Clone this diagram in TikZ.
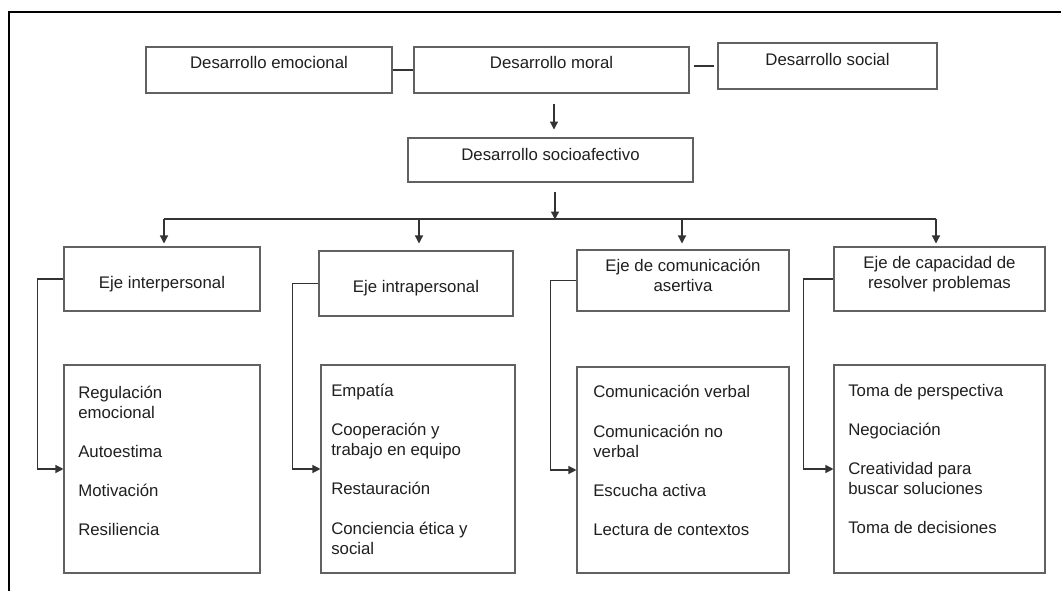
\documentclass[tikz,border=0pt]{standalone}
\usepackage{fontspec}
\setmainfont{Liberation Sans}
\usetikzlibrary{arrows.meta,calc}
\begin{document}
\begin{tikzpicture}[x=0.75pt,y=-0.75pt,
  box/.style={draw=black!62, line width=0.8pt, rectangle, inner sep=0pt},
  sz/.style 2 args={minimum width=#1*0.75pt, minimum height=#2*0.75pt},
  txt/.style={font=\fontsize{12.6}{15}\selectfont, text=black!88, inner sep=0pt},
  conn/.style={draw=black!80, line width=0.9pt},
  arr/.style={conn, -{Triangle[width=6pt,length=6pt]}},
  frame/.style={draw=black, line width=1.2pt}
  ]
\useasboundingbox (0,0) rectangle (1061,591);
\draw[frame] (9,591) -- (9,12) -- (1061,12);

% top row
\node[box, sz={246}{46}] (emo) at (269,70) {};
\node[box, sz={275}{46}] (mor) at (551.5,70) {};
\node[box, sz={219}{46}] (soc) at (827.5,66) {};
\node[box, sz={285}{44}] (sa) at (550.5,160) {};
\node[txt, anchor=base] (temo) at (269,69) {Desarrollo emocional};
\node[txt, anchor=base] (tmor) at (551.5,69) {Desarrollo moral};
\node[txt, anchor=base] (tsoc) at (827.5,66) {Desarrollo social};
\node[txt, anchor=base] (tsa) at (550.5,161) {Desarrollo socioafectivo};

\draw[conn] (emo.east) -- (mor.west);
\draw[conn] ([xshift=3pt]mor.east |- soc.west) -- ([xshift=-2.25pt]soc.west);
\draw[arr] ($(mor.south)+(2.5,10)$) -- ($(mor.south)+(2.5,36)$);
\draw[arr] ($(sa.south)+(4.5,9)$) -- ($(sa.south)+(4.5,37)$);

% bus
\coordinate (d1) at (164,219);
\coordinate (d2) at (419,219);
\coordinate (d3) at (682,219);
\coordinate (d4) at (936,219);
\draw[conn] (d1) -- (d4);
\foreach \d in {d1,d2,d3,d4} \draw[arr] (\d) -- ++(0,24.5);

% axes
\node[box, sz={196}{64}] (e1) at (162,279) {};
\node[box, sz={194}{65}] (e2) at (416,283.5) {};
\node[box, sz={212}{61}] (e3) at (683,280.5) {};
\node[box, sz={211}{64}] (e4) at (939.5,279) {};
\node[txt, anchor=base] (te1) at (162,289) {Eje interpersonal};
\node[txt, anchor=base] (te2) at (416,293) {Eje intrapersonal};
\node[txt, anchor=base] (te3a) at (683,272) {Eje de comunicación};
\node[txt, anchor=base] (te3b) at (683,292) {asertiva};
\node[txt, anchor=base] (te4a) at (939.5,269) {Eje de capacidad de};
\node[txt, anchor=base] (te4b) at (939.5,289) {resolver problemas};

% lower boxes
\node[box, sz={196}{208}] (b1) at (162,469) {};
\node[box, sz={194}{208}] (b2) at (418,469) {};
\node[box, sz={212}{206}] (b3) at (683,470) {};
\node[box, sz={211}{208}] (b4) at (939.5,469) {};

\draw[arr] (e1.west) -- ++(-26,0) |- (b1.west);
\draw[arr] (e2.west) -- ++(-26,0) |- (b2.west);
\draw[arr] (e3.west) -- ++(-26,0) |- (b3.west);
\draw[arr] (e4.west) -- ++(-30,0) |- (b4.west);

\foreach \t/\y [count=\i] in {Regulación/399, emocional/419, Autoestima/458, Motivación/497, Resiliencia/536}
  \node[txt, anchor=base west] (ia\i) at (78,\y) {\t};
\foreach \t/\y [count=\i] in {Empatía/397, Cooperación y/436, trabajo en equipo/456, Restauración/495, Conciencia ética y/535, social/555}
  \node[txt, anchor=base west] (ib\i) at (331,\y) {\t};
\foreach \t/\y [count=\i] in {Comunicación verbal/398, Comunicación no/438, verbal/458, Escucha activa/497, Lectura de contextos/536}
  \node[txt, anchor=base west] (ic\i) at (593,\y) {\t};
\foreach \t/\y [count=\i] in {Toma de perspectiva/397, Negociación/436, Creatividad para/475, buscar soluciones/495, Toma de decisiones/534}
  \node[txt, anchor=base west] (id\i) at (848,\y) {\t};
\end{tikzpicture}
\end{document}
